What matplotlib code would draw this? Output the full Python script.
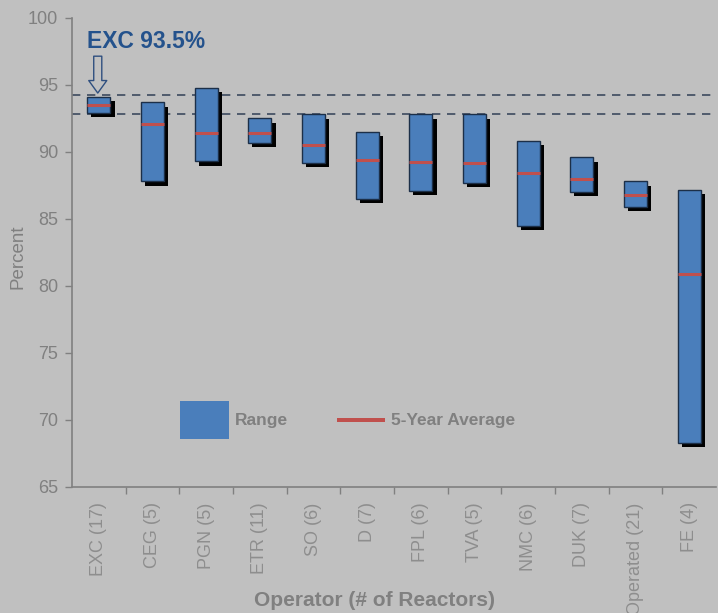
import matplotlib
matplotlib.use("Agg")
import matplotlib.pyplot as plt
import matplotlib.patheffects as pe
from matplotlib.patches import Patch, Rectangle
from matplotlib.legend_handler import HandlerPatch

plt.rcParams["font.family"] = ["Liberation Sans", "DejaVu Sans"]

# data
operators = ["EXC (17)", "CEG (5)", "PGN (5)", "ETR (11)", "SO (6)", "D (7)",
             "FPL (6)", "TVA (5)", "NMC (6)", "DUK (7)", "Operated (21)", "FE (4)"]
range_high = [94.1, 93.7, 94.8, 92.5, 92.8, 91.5, 92.8, 92.8, 90.8, 89.6, 87.8, 87.2]
range_low = [92.9, 87.8, 89.3, 90.7, 89.2, 86.5, 87.1, 87.7, 84.5, 87.0, 85.9, 68.3]
five_year_avg = [93.5, 92.1, 91.4, 91.4, 90.5, 89.4, 89.25, 89.15, 88.4, 87.95, 86.8, 80.9]
ref_lines = [94.25, 92.85]
yticks = [65, 70, 75, 80, 85, 90, 95, 100]

BG = "#c0c0c0"
BLUE = "#4a7ebb"
RED = "#c0504d"
GRAY = "#808080"
NAVY = "#24528c"


def thin_bar(legend, orig_handle, xdescent, ydescent, width, height, fontsize):
    h = 0.24 * fontsize
    return Rectangle((-xdescent, -ydescent + height / 2 - h / 2), width, h)


fig = plt.figure(figsize=(7.18, 6.13), dpi=100, facecolor=BG)
ax = fig.add_axes([72 / 718, 1 - 487 / 613, 644 / 718, 469 / 613], facecolor=BG)

x = list(range(len(operators)))
heights = [h - l for h, l in zip(range_high, range_low)]
width = 0.43

ax.bar(x, heights, bottom=range_low, width=width, color=BLUE, edgecolor="#1c2f48",
       linewidth=1.0, zorder=3,
       path_effects=[pe.SimplePatchShadow(offset=(3, -3), shadow_rgbFace="black", alpha=1.0),
                     pe.Normal()])
for xi, avg in zip(x, five_year_avg):
    ax.plot([xi - width / 2, xi + width / 2], [avg, avg], color=RED, lw=2.2,
            solid_capstyle="butt", zorder=4)

for yv in ref_lines:
    ax.axhline(yv, color="#3c4a5e", lw=1.2, ls=(0, (5, 4)), zorder=2)

# callout
ax.text(-0.22, 98.25, "EXC 93.5%", color=NAVY, fontsize=16.5, fontweight="bold",
        va="center", ha="left")
ax.annotate("", xy=(-0.02, 94.4), xytext=(-0.02, 97.15),
            arrowprops=dict(arrowstyle="simple,head_width=0.65,head_length=0.45,tail_width=0.29",
                            mutation_scale=20, fc=BG, ec="#2f4f7f", lw=1.0,
                            shrinkA=0, shrinkB=0))

ax.set_xlim(-0.5, len(operators) - 0.5)
ax.set_ylim(65, 100)
ax.set_yticks(yticks)
ax.set_xticks(x)
ax.set_xticklabels(operators, rotation=90, color="#8e8e8e", fontsize=13, va="top")
ax.set_xticks([i + 0.5 for i in x[:-1]], minor=True)
ax.tick_params(axis="x", which="major", length=0, pad=11)
ax.tick_params(axis="x", which="minor", length=5, color=GRAY, width=1)
ax.tick_params(axis="y", length=5, color=GRAY, width=1, labelsize=13, labelcolor=GRAY, pad=5)

for side in ["top", "right"]:
    ax.spines[side].set_visible(False)
for side in ["left", "bottom"]:
    ax.spines[side].set_color(GRAY)
    ax.spines[side].set_linewidth(1.2)

ax.set_ylabel("Percent", fontsize=13.5, color=GRAY)
ax.yaxis.set_label_coords(-0.071, 0.49)
ax.set_xlabel("Operator (# of Reactors)", fontsize=15, fontweight="bold", color=GRAY)
ax.xaxis.set_label_coords(0.47, -0.222)

avg_handle = Patch(facecolor=RED, edgecolor="none")
handles = [Patch(facecolor=BLUE, edgecolor="none"), avg_handle]
leg = ax.legend(handles, ["Range", "5-Year Average"], ncol=2, frameon=False,
                loc="center left", bbox_to_anchor=(0.168, 0.143), borderpad=0,
                borderaxespad=0, handlelength=2.8, handleheight=3.0,
                handletextpad=0.35, columnspacing=2.8,
                handler_map={avg_handle: HandlerPatch(patch_func=thin_bar)},
                prop={"weight": "bold", "size": 12.5})
for t in leg.get_texts():
    t.set_color(GRAY)

fig.savefig("out.png", dpi=100, facecolor=BG)
